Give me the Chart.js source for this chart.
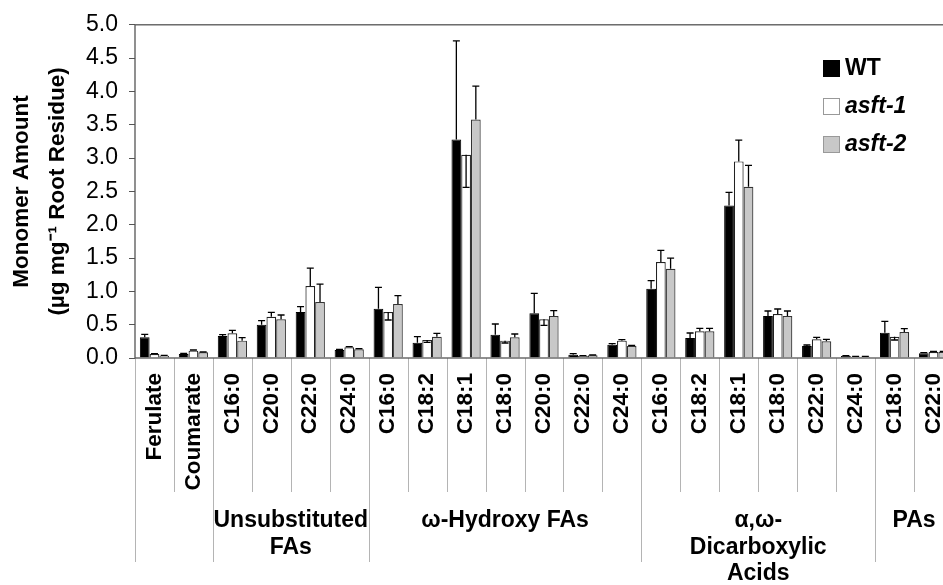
<!DOCTYPE html>
<html lang="en">
<head>
  <meta charset="UTF-8">
  <title>Root Monomer Amounts</title>
  <script src="https://cdn.jsdelivr.net/npm/chart.js"></script>
  <style>
    html, body {
      margin: 0;
      padding: 0;
      overflow: hidden;
      background: #fff;
    }
    .clip {
      width: 943px;
      height: 585px;
      overflow: hidden;
    }
    #monomerChart {
      display: block;
    }
  </style>
</head>
<body>
  <div class="clip"><canvas id="monomerChart" width="960" height="585"></canvas></div>
  <script>
    // categories along the x axis, and the groups they sit in
    const categories = ['Ferulate', 'Coumarate',
      'C16:0', 'C20:0', 'C22:0', 'C24:0',
      'C16:0', 'C18:2', 'C18:1', 'C18:0', 'C20:0', 'C22:0', 'C24:0',
      'C16:0', 'C18:2', 'C18:1', 'C18:0', 'C22:0', 'C24:0',
      'C18:0', 'C22:0'];
    const groupLabels = [[], ['Unsubstituted', 'FAs'], ['ω-Hydroxy FAs'], ['α,ω-', 'Dicarboxylic', 'Acids'], ['PAs']];
    const groupSizes = [2, 4, 7, 6, 2];

    // series values (µg mg-1 root residue); negative error = drawn downward
    const wtValues = [0.31, 0.06, 0.33, 0.50, 0.69, 0.12, 0.74, 0.23, 3.28, 0.35, 0.67, 0.05, 0.20, 1.04, 0.30, 2.29, 0.63, 0.18, 0.03, 0.38, 0.07];
    const wtErrors = [0.045, 0.01, 0.02, 0.06, 0.08, 0.01, 0.32, 0.09, 1.48, 0.16, 0.30, 0.015, 0.015, 0.12, 0.075, 0.195, 0.075, 0.015, 0.005, 0.17, 0.01];
    const asft1Values = [0.06, 0.11, 0.37, 0.62, 1.08, 0.16, 0.69, 0.27, 3.05, 0.26, 0.58, 0.03, 0.26, 1.44, 0.40, 2.95, 0.66, 0.28, 0.02, 0.32, 0.09];
    const asft1Errors = [0.005, 0.01, 0.045, 0.065, 0.27, 0.01, -0.12, -0.035, -0.49, -0.035, -0.09, 0.005, 0.015, 0.175, 0.045, 0.32, 0.075, 0.03, 0.005, -0.05, 0.01];
    const asft2Values = [0.035, 0.085, 0.26, 0.58, 0.84, 0.13, 0.81, 0.32, 3.58, 0.31, 0.63, 0.04, 0.18, 1.34, 0.40, 2.57, 0.63, 0.25, 0.02, 0.39, 0.09];
    const asft2Errors = [0.005, 0.005, 0.045, 0.065, 0.27, 0.01, 0.125, 0.05, 0.50, 0.05, 0.08, 0.005, 0.01, 0.16, 0.045, 0.32, 0.075, 0.03, 0.005, 0.05, 0.01];

    // y axis
    const yMin = 0;
    const yMax = 5;
    const yStep = 0.5;

    const fontFamily = '"Liberation Sans", Arial, sans-serif';

    // error bars on top of every bar
    const errorBars = {
      id: 'errorBars',
      afterDatasetsDraw(chart) {
        const ctx = chart.ctx;
        const yScale = chart.scales.y;
        ctx.save();
        ctx.strokeStyle = '#000';
        ctx.lineWidth = 1.3;
        chart.data.datasets.forEach((ds, i) => {
          const meta = chart.getDatasetMeta(i);
          meta.data.forEach((bar, j) => {
            const v = ds.data[j];
            const y0 = yScale.getPixelForValue(v);
            const y1 = yScale.getPixelForValue(v + ds.errors[j]);
            ctx.beginPath();
            ctx.moveTo(bar.x, y0);
            ctx.lineTo(bar.x, y1);
            ctx.moveTo(bar.x - 3.5, y1);
            ctx.lineTo(bar.x + 3.5, y1);
            ctx.stroke();
          });
        });
        ctx.restore();
      }
    };

    // plot frame, category separators and group labels under the axis
    const groupAxis = {
      id: 'groupAxis',
      afterDraw(chart) {
        const { ctx, chartArea } = chart;
        const w = (chartArea.right - chartArea.left) / categories.length;
        const edges = [0];
        groupSizes.forEach(n => edges.push(edges[edges.length - 1] + n));

        ctx.save();
        ctx.strokeStyle = '#b4b4b4';
        ctx.lineWidth = 1;
        for (let i = 0; i <= categories.length; i++) {
          const bx = Math.round(chartArea.left + i * w) + 0.5;
          const bottom = edges.includes(i) ? 562 : 492;
          ctx.beginPath();
          ctx.moveTo(bx, chartArea.bottom);
          ctx.lineTo(bx, bottom);
          ctx.stroke();
        }

        ctx.fillStyle = '#000';
        ctx.font = 'bold 23px ' + fontFamily;
        ctx.textAlign = 'center';
        ctx.textBaseline = 'middle';
        groupLabels.forEach((lines, g) => {
          const cx = chartArea.left + (edges[g] + groupSizes[g] / 2) * w;
          lines.forEach((line, k) => ctx.fillText(line, cx, 521 + k * 26.5));
        });

        ctx.strokeStyle = '#555';
        ctx.lineWidth = 1.3;
        ctx.strokeRect(chartArea.left, chartArea.top, chartArea.right - chartArea.left, chartArea.bottom - chartArea.top);
        ctx.restore();
      }
    };

    // legend inside the plot, top right
    const sideLegend = {
      id: 'sideLegend',
      afterDraw(chart) {
        const ctx = chart.ctx;
        ctx.save();
        chart.data.datasets.forEach((ds, i) => {
          const top = 60 + i * 38;
          ctx.fillStyle = ds.backgroundColor;
          ctx.fillRect(823, top, 17, 17);
          ctx.strokeStyle = i === 0 ? '#000' : '#999';
          ctx.lineWidth = 1;
          ctx.strokeRect(823.5, top + 0.5, 16, 16);
          ctx.fillStyle = '#000';
          ctx.font = (i === 0 ? 'bold ' : 'italic bold ') + '23px ' + fontFamily;
          ctx.textAlign = 'left';
          ctx.textBaseline = 'middle';
          ctx.fillText(ds.label, 845, top + 9);
        });
        ctx.restore();
      }
    };

    const ctx = document.getElementById('monomerChart').getContext('2d');
    const monomerChart = new Chart(ctx, {
      type: 'bar',
      data: {
        labels: categories,
        datasets: [
          { label: 'WT', data: wtValues, errors: wtErrors, backgroundColor: '#000000', borderColor: '#000000', borderWidth: 1 },
          { label: 'asft-1', data: asft1Values, errors: asft1Errors, backgroundColor: '#ffffff', borderColor: '#222222', borderWidth: 1.2 },
          { label: 'asft-2', data: asft2Values, errors: asft2Errors, backgroundColor: '#c8c8c8', borderColor: '#333333', borderWidth: 1.2 }
        ]
      },
      options: {
        responsive: false,
        animation: false,
        devicePixelRatio: 1,
        layout: { padding: { top: 23, right: 7, left: 0, bottom: 0 } },
        datasets: { bar: { categoryPercentage: 0.75, barPercentage: 1.0 } },
        plugins: {
          legend: { display: false },
          tooltip: { enabled: false }
        },
        scales: {
          x: {
            grid: { display: false, drawTicks: false },
            border: { display: false },
            ticks: {
              autoSkip: false,
              minRotation: 90,
              maxRotation: 90,
              padding: 15,
              color: '#000',
              font: { family: fontFamily, size: 22.5, weight: 'bold' }
            },
            afterFit(scale) {
              scale.height = 227;
              scale.paddingLeft = 0;
              scale.paddingRight = 0;
            }
          },
          y: {
            min: yMin,
            max: yMax,
            grid: { drawOnChartArea: false, drawTicks: true, tickLength: 6, color: '#555' },
            border: { display: false },
            ticks: {
              stepSize: yStep,
              padding: 11,
              color: '#000',
              font: { family: fontFamily, size: 23 },
              callback: v => v.toFixed(1)
            },
            title: {
              display: true,
              text: ['Monomer Amount', '(µg mg⁻¹ Root Residue)'],
              color: '#000',
              padding: { top: 4, bottom: 0 },
              font: { family: fontFamily, size: 22.5, weight: 'bold', lineHeight: 1.6 }
            },
            afterFit(scale) {
              scale.width = 135;
            }
          }
        }
      },
      plugins: [errorBars, groupAxis, sideLegend]
    });
  </script>
</body>
</html>
